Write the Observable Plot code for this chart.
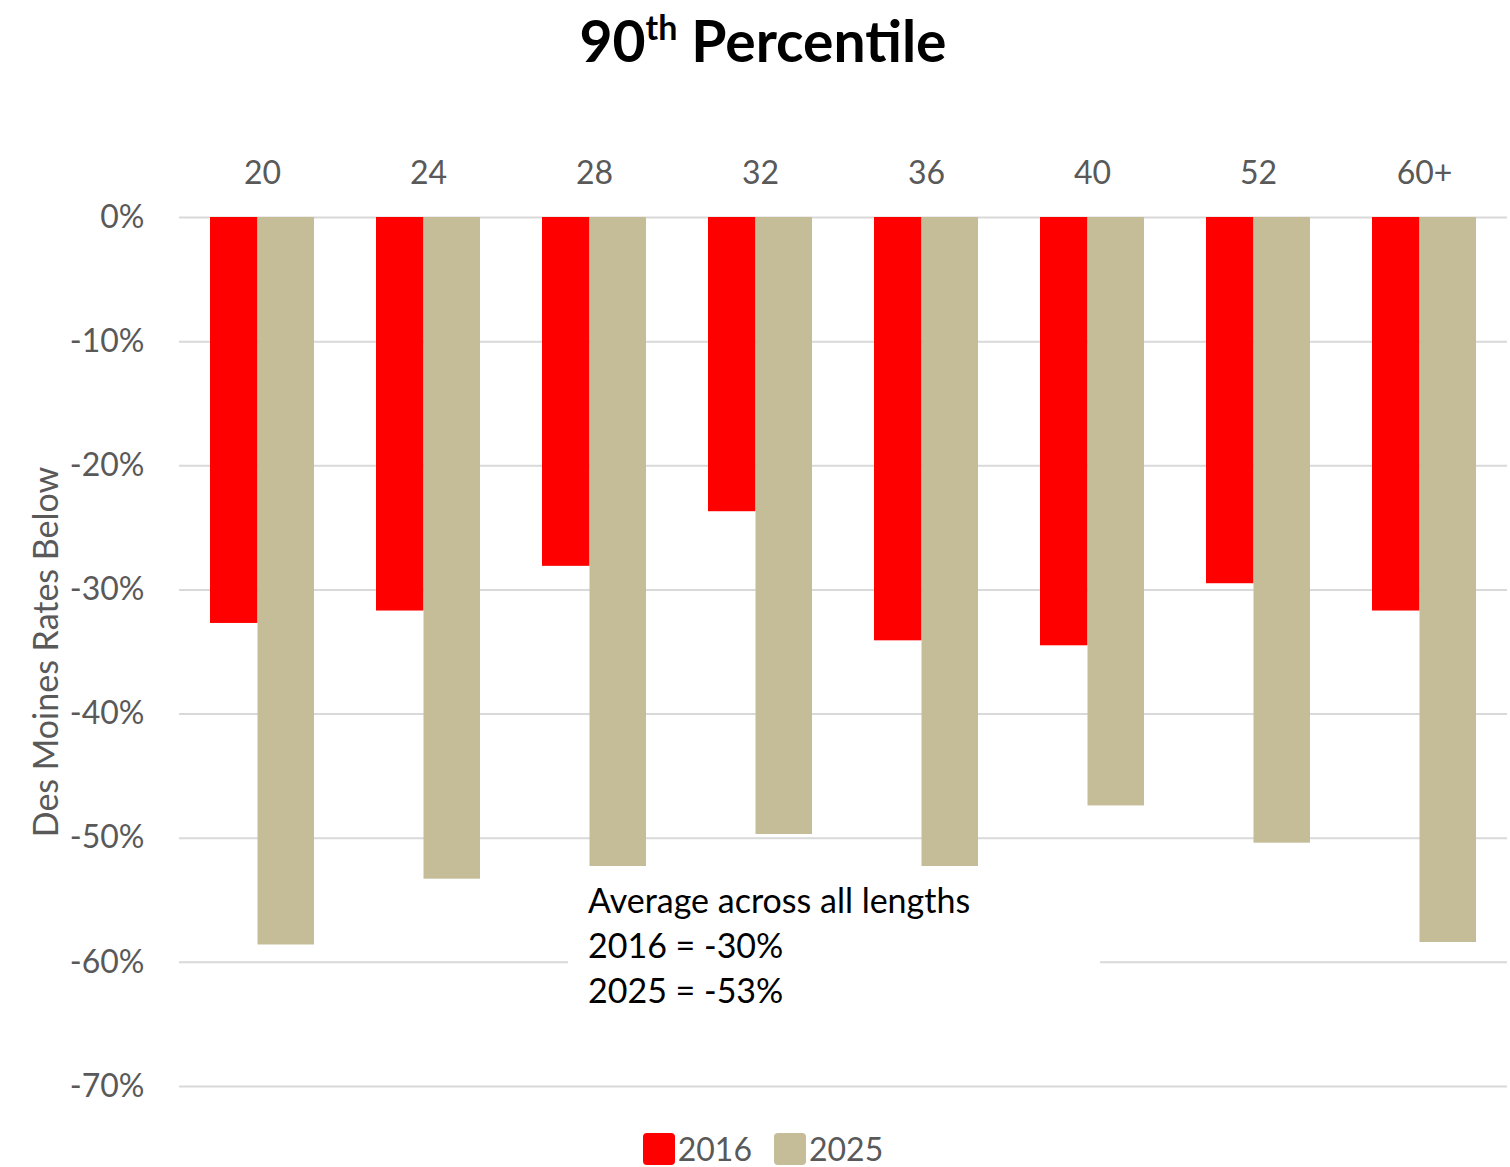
<!DOCTYPE html>
<html>
<head>
<meta charset="utf-8">
<script src="https://cdn.jsdelivr.net/npm/d3@7"></script>
<script src="https://cdn.jsdelivr.net/npm/@observablehq/plot@0.6"></script>
<style>
  body { margin: 0; background: #fff; font-family: Lato, "Open Sans", sans-serif; }
  #wrap { position: relative; width: 1510px; height: 1167px; overflow: hidden; }
  #title { height: 90px; text-align: center; font-weight: 700; font-size: 57px; color: #000; line-height: 80px; padding-left: 16px; box-sizing: border-box; }
  #title sup { font-size: 34px; vertical-align: 0; position: relative; top: -22px; }
  #note { position: absolute; left: 568px; top: 866px; width: 532px; height: 150px; background: #fff; color: #000; font-size: 34px; line-height: 45px; padding-left: 20px; padding-top: 11px; box-sizing: border-box; }
  #legend { position: absolute; left: 0; top: 1132px; width: 1510px; height: 33px; display: flex; justify-content: center; align-items: center; gap: 22px; font-size: 32px; line-height: 1; color: #595959; padding-left: 16px; box-sizing: border-box; }
  #legend > span { display: inline-flex; align-items: center; line-height: 1; }
  .sw { display: inline-block; width: 32px; height: 32px; border-radius: 4px; margin-right: 3px; }
  #chart svg g[aria-label="y-axis label"] text { font-size: 34px; }
</style>
</head>
<body>
<div id="wrap">
  <div id="title">90<sup>th</sup> Percentile</div>
  <div id="chart"></div>
  <div id="legend"></div>
  <div id="note">Average across all lengths<br>2016 = -30%<br>2025 = -53%</div>
</div>
<script>
const lengths = ["20", "24", "28", "32", "36", "40", "52", "60+"];
const years = ["2016", "2025"];
const values2016 = [-32.7, -31.7, -28.1, -23.7, -34.1, -34.5, -29.5, -31.7];
const values2025 = [-58.6, -53.3, -54.0, -49.7, -54.0, -47.4, -50.4, -58.4];
const yTicks = [0, -10, -20, -30, -40, -50, -60, -70];
const colors = ["#FF0000", "#C4BD97"];

const rows2016 = lengths.map((l, i) => ({length: l, year: "2016", value: values2016[i]}));
const rows2025 = lengths.map((l, i) => ({length: l, year: "2025", value: values2025[i]}));

const chart = Plot.plot({
  width: 1510,
  height: 1030,
  marginTop: 127,
  marginBottom: 34,
  marginLeft: 178,
  marginRight: 2,
  style: {fontFamily: "Lato, 'Open Sans', sans-serif", fontSize: "32px", color: "#595959", background: "#fff"},
  fx: {domain: lengths, padding: 0, axis: "top", tickSize: 0, tickPadding: 34, label: null},
  x: {domain: years, axis: null, paddingInner: 0, paddingOuter: 0.583},
  y: {domain: [-70, 0], ticks: yTicks, tickFormat: d => d + "%", tickSize: 0, tickPadding: 35,
      grid: false, label: "Des Moines Rates Below", labelAnchor: "center", labelOffset: 146, labelArrow: "none"},
  marks: [
    Plot.ruleY(yTicks, {stroke: "#d9d9d9", strokeWidth: 2}),
    Plot.barY(rows2016, {fx: "length", x: "year", y: "value", fill: colors[0], insetLeft: 0, insetRight: 4.5}),
    Plot.barY(rows2025, {fx: "length", x: "year", y: "value", fill: colors[1], insetLeft: -4.5, insetRight: 0})
  ]
});
document.getElementById("chart").appendChild(chart);

const legend = document.getElementById("legend");
years.forEach((y, i) => {
  const item = document.createElement("span");
  item.innerHTML = `<span class="sw" style="background:${colors[i]}"></span>${y}`;
  legend.appendChild(item);
});
</script>
</body>
</html>
